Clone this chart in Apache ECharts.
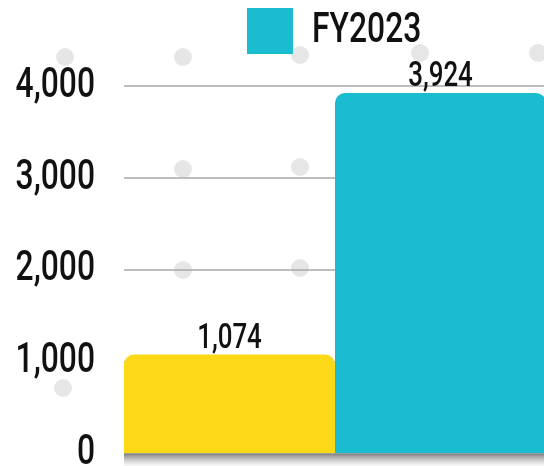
<!DOCTYPE html>
<html>
<head>
<meta charset="utf-8">
<title>FY2023</title>
<script src="https://cdn.jsdelivr.net/npm/echarts@6/dist/echarts.min.js"></script>
<style>
  html, body { margin: 0; padding: 0; background: #fff; }
  #chart { width: 544px; height: 466px; }
</style>
</head>
<body>
<div id="chart"></div>
<script>
// values
const categories = ['FY2022', 'FY2023']
const values = [1074, 3924]
const barColors = ['#FDD816', '#19BDCF']
const legendNames = ['FY2023']
const yMin = 0
const yMax = 4000
const yStep = 1000

// decorative grey dots in the background
const dots = [
  [65, 57], [183, 57], [300, 55], [420, 53], [538, 53],
  [183, 169], [300, 167], [183, 270], [300, 268], [63, 388]
]

const font = 'Roboto, sans-serif'
const fmt = v => Number(v).toLocaleString('en-US')

// the original uses a condensed typeface; squeeze canvas text horizontally
const condense = 0.74
const origFillText = CanvasRenderingContext2D.prototype.fillText
CanvasRenderingContext2D.prototype.fillText = function (text, x, y, maxWidth) {
  const w = this.measureText(text).width * condense
  return origFillText.call(this, text, x, y, maxWidth != null ? Math.min(maxWidth, w) : w)
}

const myChart = echarts.init(document.getElementById('chart'))

let graphic = dots.map(p => ({
  type: 'circle',
  silent: true,
  z: 0,
  shape: { cx: p[0], cy: p[1], r: 9 },
  style: { fill: '#e6e6e6' }
}))
// soft shadow under the bars
graphic.push({
  type: 'rect',
  silent: true,
  z: 0,
  shape: { x: 124, y: 453, width: 420, height: 13 },
  style: {
    fill: new echarts.graphic.LinearGradient(0, 0, 0, 1, [
      { offset: 0, color: 'rgba(60,60,60,0.7)' },
      { offset: 1, color: 'rgba(140,140,140,0.05)' }
    ])
  }
})

const option = {
  animation: false,
  backgroundColor: '#fff',
  graphic,
  legend: {
    data: legendNames,
    left: 242,
    top: 3,
    icon: 'rect',
    itemWidth: 46,
    itemHeight: 46,
    textStyle: {
      fontFamily: font,
      fontWeight: 500,
      fontSize: 43,
      color: '#111',
      padding: [0, 0, 0, 14]
    }
  },
  grid: {
    left: 124,
    right: -2,
    top: 86,
    bottom: 13,
    containLabel: false,
    outerBoundsMode: 'none'
  },
  xAxis: {
    type: 'category',
    data: categories,
    axisLine: { show: false },
    axisTick: { show: false },
    axisLabel: { show: false }
  },
  yAxis: {
    type: 'value',
    min: yMin,
    max: yMax,
    interval: yStep,
    axisLine: { show: false },
    axisTick: { show: false },
    axisLabel: {
      margin: 29,
      fontFamily: font,
      fontWeight: 500,
      fontSize: 43,
      color: '#111',
      formatter: fmt
    },
    splitLine: {
      lineStyle: { color: '#a8a8a8', width: 1.5 }
    }
  },
  series: [
    {
      name: 'FY2023',
      type: 'bar',
      barCategoryGap: '0%',
      itemStyle: {
        color: barColors[1],
        borderRadius: [10, 10, 0, 0]
      },
      label: {
        show: true,
        position: 'top',
        distance: 2,
        offset: [0, 4],
        fontFamily: font,
        fontWeight: 500,
        fontSize: 35,
        color: '#111',
        formatter: p => fmt(p.value)
      },
      data: values.map((v, i) => ({
        value: v,
        itemStyle: { color: barColors[i] }
      }))
    }
  ]
}

myChart.setOption(option)
</script>
</body>
</html>
